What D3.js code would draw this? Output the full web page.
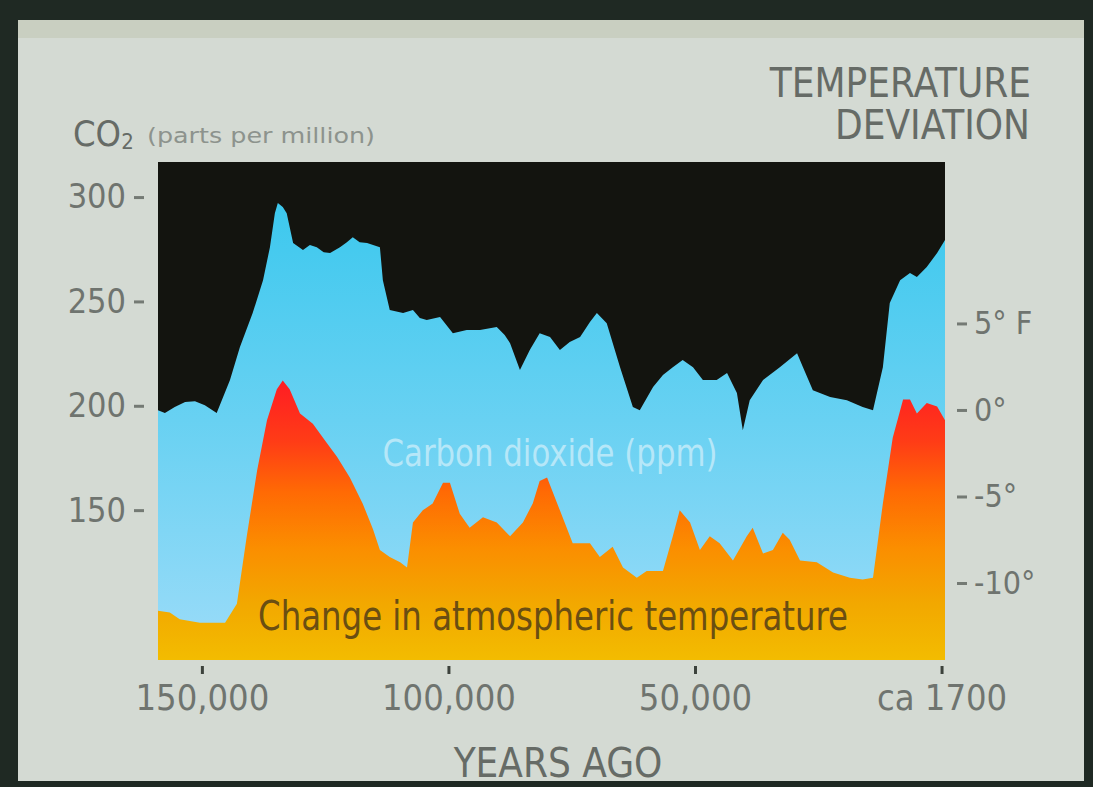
<!DOCTYPE html>
<html><head><meta charset="utf-8">
<script src="https://cdn.jsdelivr.net/npm/d3@7"></script>
<style>
html,body{margin:0;padding:0;background:#1f2923;}
svg{display:block;}
text{font-family:"Liberation Sans Narrow","DejaVu Sans Condensed","Liberation Sans",sans-serif;}
</style></head><body>
<svg id="chart" width="1093" height="787"></svg>
<script>
// ---- data ----
const co2Years = [158900,157500,155500,153400,151400,149400,147000,144300,142300,139700,137600,136200,135200,134600,133600,132800,131500,129500,128100,126700,125300,124000,122000,120600,119400,118000,116500,113900,113300,111900,109200,107200,105800,104400,101700,99100,96300,93600,90200,88600,87500,85500,83500,81500,79400,77400,75400,73300,71300,69900,67900,65200,62600,61200,58500,56500,54500,52500,50400,48400,45600,43500,41500,40300,38900,36200,32800,29300,28100,26100,22600,19200,16000,13900,11900,10500,8400,6400,5000,3000,900,-700];
const co2Values = [197.9,196.5,199.4,201.8,202.2,200.3,196.5,212.3,228.1,244.4,260.2,276.0,292.3,297.1,295.2,292.3,278.0,274.6,277.0,276.0,273.6,273.2,276.0,278.4,280.8,278.4,278.0,276.0,260.2,245.9,244.4,245.9,242.0,241.1,242.5,234.8,236.3,236.3,237.7,233.9,230.0,217.1,226.7,234.8,232.9,226.7,230.5,232.9,240.1,244.4,239.6,218.5,199.4,197.9,209.0,214.7,218.5,221.9,218.5,212.3,212.3,215.7,206.1,188.3,202.7,212.3,218.5,225.2,218.5,207.5,204.2,202.7,199.4,197.9,218.5,249.2,260.2,263.6,261.7,266.5,273.2,279.4];
const tempYears = [158900,156500,154500,150400,145300,142900,140900,138800,136800,134800,133600,132200,130100,127500,124700,122600,120000,117400,115300,113900,111900,109800,108400,107200,105200,103200,101100,99700,97700,95700,93000,90200,87500,84900,82900,81500,80000,77400,74800,71300,69300,66700,64600,61800,59800,56500,54500,53100,51000,49000,47000,45000,42300,39500,38300,36200,34200,32200,30800,28700,25300,22000,18600,16000,13900,11900,9900,7800,6400,5000,3000,900,-700];
const tempValues = [-11.6,-11.7,-12.1,-12.3,-12.3,-11.2,-7.3,-3.5,-0.6,1.2,1.7,1.2,-0.2,-0.8,-1.9,-2.7,-3.9,-5.4,-6.9,-8.1,-8.5,-8.8,-9.1,-6.5,-5.8,-5.4,-4.2,-4.2,-6.0,-6.8,-6.2,-6.5,-7.3,-6.5,-5.4,-4.1,-3.9,-5.8,-7.7,-7.7,-8.5,-7.9,-9.1,-9.7,-9.3,-9.3,-7.3,-5.8,-6.5,-8.1,-7.3,-7.7,-8.7,-7.3,-6.8,-8.3,-8.1,-7.1,-7.5,-8.7,-8.8,-9.4,-9.7,-9.8,-9.7,-5.4,-1.6,0.6,0.6,-0.2,0.4,0.2,-0.6];
const xTickValues = [150000, 100000, 50000, 0];
const xTickLabels = ["150,000", "100,000", "50,000", "ca 1700"];
const co2TickValues = [150, 200, 250, 300];
const tempTickValues = [5, 0, -5, -10];
const tempTickLabels = ["5° F", "0°", "-5°", "-10°"];

const svg = d3.select("#chart");
const W = 1093, H = 787;
const plot = {left: 158, right: 945, top: 162, bottom: 660};

// background / panel
svg.append("rect").attr("width", W).attr("height", H).attr("fill", "#1f2923");
svg.append("rect").attr("x", 18).attr("y", 20).attr("width", 1066).attr("height", 761).attr("fill", "#d4dad3");
svg.append("rect").attr("x", 18).attr("y", 20).attr("width", 1066).attr("height", 18).attr("fill", "#c9cfc1");

const x = d3.scaleLinear().domain([158900, -700]).range([plot.left, plot.right]);
const yC = d3.scaleLinear().domain([78.2, 316.8]).range([plot.bottom, plot.top]);
const yT = d3.scaleLinear().domain([-14.45, 14.33]).range([plot.bottom, plot.top]);

const defs = svg.append("defs");
const gB = defs.append("linearGradient").attr("id", "gBlue").attr("gradientUnits", "userSpaceOnUse")
  .attr("x1", 0).attr("x2", 0).attr("y1", 200).attr("y2", 640);
gB.append("stop").attr("offset", 0).attr("stop-color", "#3cc8ee");
gB.append("stop").attr("offset", 0.5).attr("stop-color", "#68d1f2");
gB.append("stop").attr("offset", 1).attr("stop-color", "#98dbf8");
const gT = defs.append("linearGradient").attr("id", "gTemp").attr("gradientUnits", "userSpaceOnUse")
  .attr("x1", 0).attr("x2", 0).attr("y1", 380).attr("y2", 660);
[[0, "#ff1c24"], [0.22, "#ff3c16"], [0.4, "#ff6a04"], [0.6, "#fb8e00"], [0.8, "#f2a800"], [1, "#f3bc00"]]
  .forEach(([o, c]) => gT.append("stop").attr("offset", o).attr("stop-color", c));

// black field
svg.append("rect").attr("x", plot.left).attr("y", plot.top)
  .attr("width", plot.right - plot.left).attr("height", plot.bottom - plot.top).attr("fill", "#13140f");

const co2Data = co2Years.map((d, i) => ({year: d, v: co2Values[i]}));
const tempData = tempYears.map((d, i) => ({year: d, v: tempValues[i]}));

svg.append("path").datum(co2Data)
  .attr("fill", "url(#gBlue)")
  .attr("d", d3.area().x(d => x(d.year)).y0(plot.bottom).y1(d => yC(d.v)));

svg.append("path").datum(tempData)
  .attr("fill", "url(#gTemp)")
  .attr("d", d3.area().x(d => x(d.year)).y0(plot.bottom).y1(d => yT(d.v)));

// inner labels
svg.append("text").attr("x", 550).attr("y", 466).attr("text-anchor", "middle")
  .attr("font-size", 38).attr("fill", "#b6e7f8").attr("textLength", 335).attr("lengthAdjust", "spacingAndGlyphs")
  .text("Carbon dioxide (ppm)");
svg.append("text").attr("x", 258).attr("y", 630)
  .attr("font-size", 40).attr("fill", "#6a4e12").attr("textLength", 590).attr("lengthAdjust", "spacingAndGlyphs")
  .text("Change in atmospheric temperature");

// axes
const axisColor = "#747a74";
const gL = svg.append("g").attr("transform", "translate(144,0)")
  .call(d3.axisLeft(yC).tickValues(co2TickValues).tickSize(10).tickPadding(8));
gL.select(".domain").remove();
gL.selectAll("line").attr("stroke", axisColor).attr("stroke-width", 3);
gL.selectAll("text").attr("font-size", 34).attr("fill", "#6f746f").attr("font-family", null);

const gR = svg.append("g").attr("transform", "translate(957,0)")
  .call(d3.axisRight(yT).tickValues(tempTickValues).tickFormat((d, i) => tempTickLabels[i]).tickSize(10).tickPadding(7));
gR.select(".domain").remove();
gR.selectAll("line").attr("stroke", axisColor).attr("stroke-width", 3);
gR.selectAll("text").attr("font-size", 32).attr("fill", "#6f746f").attr("font-family", null);

const gX = svg.append("g").attr("transform", "translate(0,666)")
  .call(d3.axisBottom(x).tickValues(xTickValues).tickFormat((d, i) => xTickLabels[i]).tickSize(8).tickPadding(10));
gX.select(".domain").remove();
gX.selectAll("line").attr("stroke", "#3c423c").attr("stroke-width", 3);
gX.selectAll("text").attr("font-size", 36).attr("fill", "#6f746f").attr("font-family", null);

// titles
svg.append("text").attr("x", 558).attr("y", 777).attr("text-anchor", "middle")
  .attr("font-size", 40).attr("fill", "#666b66").text("YEARS AGO");
svg.append("text").attr("x", 1031).attr("y", 97).attr("text-anchor", "end")
  .attr("font-size", 40).attr("fill", "#666b66").text("TEMPERATURE");
svg.append("text").attr("x", 1030).attr("y", 139).attr("text-anchor", "end")
  .attr("font-size", 40).attr("fill", "#666b66").text("DEVIATION");
const co2T = svg.append("text").attr("x", 73).attr("y", 146).attr("fill", "#666b66");
co2T.append("tspan").attr("font-size", 36).text("CO");
co2T.append("tspan").attr("font-size", 22).attr("dy", 3).text("2");
svg.append("text").attr("x", 147).attr("y", 143).attr("font-size", 22).attr("fill", "#8d938d")
  .attr("textLength", 228).attr("lengthAdjust", "spacingAndGlyphs").text("(parts per million)");
</script>
</body></html>
